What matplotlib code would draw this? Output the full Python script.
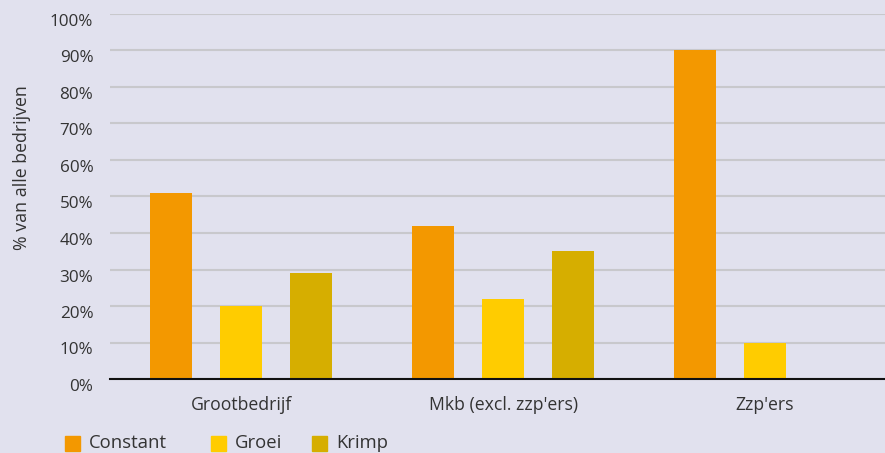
import matplotlib
matplotlib.use("Agg")
import matplotlib.pyplot as plt
import matplotlib.transforms as mtransforms
from matplotlib.patches import Rectangle
import numpy as np

categories = ["Grootbedrijf", "Mkb (excl. zzp'ers)", "Zzp'ers"]
series_names = ["Constant", "Groei", "Krimp"]
constant = [51, 42, 90]
groei = [20, 22, 10]
krimp = [29, 35, 0]
yticks = [0, 10, 20, 30, 40, 50, 60, 70, 80, 90, 100]
ylabel = "% van alle bedrijven"

colors = ["#f39800", "#ffcc00", "#d6ae00"]
bg = "#e1e1ee"
FONT = ["Open Sans", "DejaVu Sans"]
plt.rcParams["font.family"] = FONT

W, H = 885, 453
fig = plt.figure(figsize=(W / 100, H / 100), dpi=100, facecolor=bg)
ax = fig.add_axes([110 / W, (H - 379) / H, 1 - 110 / W, (379 - 14) / H])
ax.set_facecolor(bg)

x = np.arange(len(categories))
width = 0.16
offset = 0.267
for i, (vals, c) in enumerate(zip([constant, groei, krimp], colors)):
    ax.bar(x + (i - 1) * offset, vals, width, color=c, zorder=3)

ax.set_xlim(-0.5, 2.458)
ax.set_ylim(0, 100)
ax.set_yticks(yticks)
ax.set_yticklabels([f"{v}%" for v in yticks], fontsize=12.3, color="#333333")
ax.set_xticks(x)
ax.set_xticklabels(categories, fontsize=12.7, color="#333333")
ax.tick_params(axis="both", length=0)
ax.tick_params(axis="x", pad=12)
ax.tick_params(axis="y", pad=12)
ax.grid(axis="y", color="#c8c8cc", linewidth=1.5, zorder=0)
for s in ["top", "right", "left"]:
    ax.spines[s].set_visible(False)
ax.spines["bottom"].set_color("#111111")
ax.spines["bottom"].set_linewidth(1.5)
ax.spines["bottom"].set_zorder(4)

off = mtransforms.ScaledTranslation(0, -6 / 100, fig.dpi_scale_trans)
for lab in ax.get_yticklabels():
    lab.set_transform(lab.get_transform() + off)

fig.text(22 / W, 1 - 168 / H, ylabel, rotation=90, ha="center", va="center",
         fontsize=12.8, color="#333333")

# legend (manual)
leg_x = [65, 211, 312]
leg_y = 443
sq = 15
for name, c, lx in zip(series_names, colors, leg_x):
    fig.add_artist(Rectangle((lx / W, (H - leg_y - sq / 2) / H), sq / W, sq / H,
                             transform=fig.transFigure, color=c))
    fig.text((lx + 24) / W, (H - leg_y) / H, name, ha="left", va="center",
             fontsize=13.3, color="#333333")

fig.savefig("out.png", dpi=100, facecolor=bg)
